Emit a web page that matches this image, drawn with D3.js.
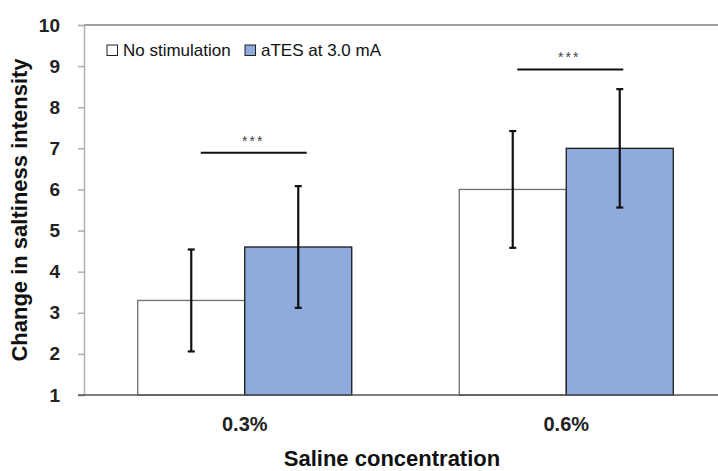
<!DOCTYPE html>
<html><head><meta charset="utf-8">
<script src="https://cdn.jsdelivr.net/npm/d3@7"></script>
<style>body{margin:0;background:#fff}svg{display:block;font-family:"Liberation Sans",Arial,sans-serif}</style>
</head><body><svg id="c" width="718" height="471"></svg>
<script>
const categories = ["0.3%", "0.6%"];
const seriesNames = ["No stimulation", "aTES at 3.0 mA"];
const noStim = [3.3, 6.0];
const aTES = [4.6, 7.0];
const noStimErr = [1.24, 1.42];
const aTESErr = [1.48, 1.44];
const yTicks = [1,2,3,4,5,6,7,8,9,10];
const sigLabels = ["***", "***"];
const sigLevels = [6.89, 8.92];

(function () {
const svg = d3.select("#c");
const pL = 84, pR = 727, pT = 25, pB = 395;
const x0 = d3.scaleBand().domain(categories).range([pL, pR]).paddingInner(0).paddingOuter(0);
const y = d3.scaleLinear().domain([1, 10]).range([pB, pT]);
const barW = 107;
const fills = ["#ffffff", "#8faadc"];
const strokes = ["#6e6e6e", "#1a1a1a"];
const vals = [noStim, aTES], errs = [noStimErr, aTESErr];
const sigSpan = [[-44, 62], [-49, 57]];
const starOff = [8.5, 3];

// top frame line
svg.append("line").attr("x1", pL).attr("x2", 718).attr("y1", pT).attr("y2", pT)
  .attr("stroke", "#808080").attr("stroke-width", 1.5);

// y axis
const ya = svg.append("g").attr("transform", `translate(${pL},0)`)
  .call(d3.axisLeft(y).tickValues(yTicks).tickSize(6).tickPadding(18).tickFormat(d3.format("d")));
ya.select(".domain").attr("stroke", "#b0b0b0").attr("stroke-width", 1.5);
ya.selectAll(".tick line").attr("stroke", "#b0b0b0").attr("stroke-width", 1.5);
ya.selectAll(".tick text").attr("font-size", 19).attr("font-weight", "bold").attr("fill", "#222")
  .attr("font-family", "Liberation Sans, Arial, sans-serif");

// bars
categories.forEach((c, i) => {
  const cx = x0(c) + x0.bandwidth() / 2;
  [0, 1].forEach(s => {
    const bx = cx - barW + s * barW;
    svg.append("rect").attr("x", bx).attr("y", y(vals[s][i])).attr("width", barW)
      .attr("height", y(1) - y(vals[s][i])).attr("fill", fills[s]).attr("stroke", strokes[s]).attr("stroke-width", 1.3);
  });
});

// x axis baseline
svg.append("line").attr("x1", pL - 6).attr("x2", 718).attr("y1", pB).attr("y2", pB)
  .attr("stroke", "#555").attr("stroke-width", 1.5);

// error bars
categories.forEach((c, i) => {
  const cx = x0(c) + x0.bandwidth() / 2;
  [0, 1].forEach(s => {
    const ex = cx - barW / 2 + s * barW;
    const v = vals[s][i], e = errs[s][i];
    const g = svg.append("g").attr("stroke", "#111").attr("stroke-width", 2.2);
    g.append("line").attr("x1", ex).attr("x2", ex).attr("y1", y(v + e)).attr("y2", y(v - e));
    g.append("line").attr("x1", ex - 3.5).attr("x2", ex + 3.5).attr("y1", y(v + e)).attr("y2", y(v + e));
    g.append("line").attr("x1", ex - 3.5).attr("x2", ex + 3.5).attr("y1", y(v - e)).attr("y2", y(v - e));
  });
  // significance line
  const ly = y(sigLevels[i]);
  svg.append("line").attr("x1", cx + sigSpan[i][0]).attr("x2", cx + sigSpan[i][1]).attr("y1", ly).attr("y2", ly)
    .attr("stroke", "#111").attr("stroke-width", 2);
  svg.append("text").attr("x", cx + starOff[i]).attr("y", ly - 7).attr("text-anchor", "middle")
    .attr("font-size", 14).attr("letter-spacing", 2).attr("fill", "#444").text(sigLabels[i]);
});

// x labels
categories.forEach(c => {
  svg.append("text").attr("x", x0(c) + x0.bandwidth() / 2).attr("y", 431).attr("text-anchor", "middle")
    .attr("font-size", 20).attr("font-weight", "bold").attr("fill", "#222").text(c);
});

// axis titles
svg.append("text").attr("x", 392).attr("y", 466).attr("text-anchor", "middle")
  .attr("font-size", 22).attr("font-weight", "bold").attr("fill", "#111").text("Saline concentration");
svg.append("text").attr("transform", "translate(27,210) rotate(-90)").attr("text-anchor", "middle")
  .attr("font-size", 22).attr("font-weight", "bold").attr("fill", "#111").text("Change in saltiness intensity");

// legend
const lg = svg.append("g");
const legX = [107, 245];
seriesNames.forEach((n, s) => {
  lg.append("rect").attr("x", legX[s]).attr("y", 45).attr("width", 10.5).attr("height", 10.5)
    .attr("fill", fills[s]).attr("stroke", "#222").attr("stroke-width", 1);
  lg.append("text").attr("x", legX[s] + 16).attr("y", 56).attr("font-size", 17).attr("fill", "#111").text(n);
});
})();
</script></body></html>
